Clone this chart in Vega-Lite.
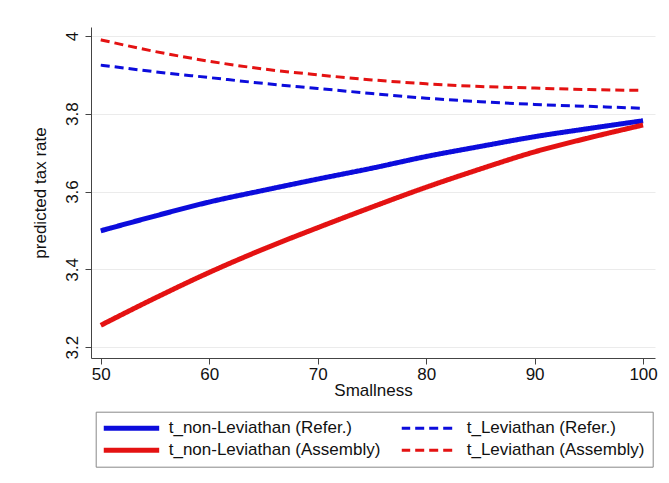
{
  "$schema": "https://vega.github.io/schema/vega-lite/v6.json",
  "width": 564,
  "height": 331,
  "autosize": "none",
  "padding": {"left": 91, "top": 27, "right": 14, "bottom": 125},
  "background": "white",
  "config": {
    "view": {"stroke": null},
    "font": "Liberation Sans",
    "axis": {
      "labelFont": "Liberation Sans",
      "titleFont": "Liberation Sans",
      "labelFontSize": 17,
      "titleFontSize": 17,
      "titleFontWeight": "normal",
      "labelColor": "#111",
      "titleColor": "#111",
      "domainColor": "#444",
      "tickColor": "#444",
      "tickSize": 6,
      "gridColor": "#ebebeb",
      "gridWidth": 1
    }
  },
  "data": {
    "values": [
      {"x": 50, "y": 3.499, "series": "t_non-Leviathan (Refer.)"},
      {"x": 55, "y": 3.537, "series": "t_non-Leviathan (Refer.)"},
      {"x": 60, "y": 3.573, "series": "t_non-Leviathan (Refer.)"},
      {"x": 65, "y": 3.603, "series": "t_non-Leviathan (Refer.)"},
      {"x": 70, "y": 3.632, "series": "t_non-Leviathan (Refer.)"},
      {"x": 75, "y": 3.660, "series": "t_non-Leviathan (Refer.)"},
      {"x": 80, "y": 3.690, "series": "t_non-Leviathan (Refer.)"},
      {"x": 85, "y": 3.716, "series": "t_non-Leviathan (Refer.)"},
      {"x": 90, "y": 3.741, "series": "t_non-Leviathan (Refer.)"},
      {"x": 95, "y": 3.762, "series": "t_non-Leviathan (Refer.)"},
      {"x": 100, "y": 3.782, "series": "t_non-Leviathan (Refer.)"},
      {"x": 50, "y": 3.925, "series": "t_Leviathan (Refer.)"},
      {"x": 55, "y": 3.908, "series": "t_Leviathan (Refer.)"},
      {"x": 60, "y": 3.893, "series": "t_Leviathan (Refer.)"},
      {"x": 65, "y": 3.878, "series": "t_Leviathan (Refer.)"},
      {"x": 70, "y": 3.865, "series": "t_Leviathan (Refer.)"},
      {"x": 75, "y": 3.852, "series": "t_Leviathan (Refer.)"},
      {"x": 80, "y": 3.840, "series": "t_Leviathan (Refer.)"},
      {"x": 85, "y": 3.831, "series": "t_Leviathan (Refer.)"},
      {"x": 90, "y": 3.824, "series": "t_Leviathan (Refer.)"},
      {"x": 95, "y": 3.819, "series": "t_Leviathan (Refer.)"},
      {"x": 100, "y": 3.814, "series": "t_Leviathan (Refer.)"},
      {"x": 50, "y": 3.256, "series": "t_non-Leviathan (Assembly)"},
      {"x": 55, "y": 3.326, "series": "t_non-Leviathan (Assembly)"},
      {"x": 60, "y": 3.392, "series": "t_non-Leviathan (Assembly)"},
      {"x": 65, "y": 3.452, "series": "t_non-Leviathan (Assembly)"},
      {"x": 70, "y": 3.507, "series": "t_non-Leviathan (Assembly)"},
      {"x": 75, "y": 3.560, "series": "t_non-Leviathan (Assembly)"},
      {"x": 80, "y": 3.611, "series": "t_non-Leviathan (Assembly)"},
      {"x": 85, "y": 3.658, "series": "t_non-Leviathan (Assembly)"},
      {"x": 90, "y": 3.702, "series": "t_non-Leviathan (Assembly)"},
      {"x": 95, "y": 3.738, "series": "t_non-Leviathan (Assembly)"},
      {"x": 100, "y": 3.771, "series": "t_non-Leviathan (Assembly)"},
      {"x": 50, "y": 3.990, "series": "t_Leviathan (Assembly)"},
      {"x": 55, "y": 3.960, "series": "t_Leviathan (Assembly)"},
      {"x": 60, "y": 3.935, "series": "t_Leviathan (Assembly)"},
      {"x": 65, "y": 3.915, "series": "t_Leviathan (Assembly)"},
      {"x": 70, "y": 3.900, "series": "t_Leviathan (Assembly)"},
      {"x": 75, "y": 3.887, "series": "t_Leviathan (Assembly)"},
      {"x": 80, "y": 3.877, "series": "t_Leviathan (Assembly)"},
      {"x": 85, "y": 3.870, "series": "t_Leviathan (Assembly)"},
      {"x": 90, "y": 3.866, "series": "t_Leviathan (Assembly)"},
      {"x": 95, "y": 3.862, "series": "t_Leviathan (Assembly)"},
      {"x": 100, "y": 3.860, "series": "t_Leviathan (Assembly)"}
    ]
  },
  "mark": {"type": "line", "interpolate": "monotone", "strokeCap": "butt"},
  "encoding": {
    "x": {
      "field": "x",
      "type": "quantitative",
      "title": "Smallness",
      "scale": {"domain": [49.1, 101.1], "nice": false, "zero": false},
      "axis": {
        "values": [50, 60, 70, 80, 90, 100],
        "grid": false,
        "labelPadding": 2,
        "titlePadding": 0,
        "labelFlush": false
      }
    },
    "y": {
      "field": "y",
      "type": "quantitative",
      "title": "predicted tax rate",
      "scale": {"domain": [3.172, 4.023], "nice": false, "zero": false},
      "axis": {
        "values": [3.2, 3.4, 3.6, 3.8, 4.0],
        "format": "~g",
        "grid": true,
        "labelAngle": -90,
        "labelAlign": "center",
        "labelBaseline": "alphabetic",
        "labelPadding": 8,
        "titlePadding": 14,
        "labelFlush": false
      }
    },
    "color": {
      "field": "series",
      "type": "nominal",
      "title": null,
      "scale": {
        "domain": ["t_non-Leviathan (Refer.)", "t_Leviathan (Refer.)", "t_non-Leviathan (Assembly)", "t_Leviathan (Assembly)"],
        "range": ["#0c0cdc", "#0c0cdc", "#e41212", "#e41212"]
      },
      "legend": {
        "orient": "none",
        "legendX": 4.7,
        "legendY": 384.7,
        "columns": 2,
        "direction": "horizontal",
        "strokeColor": "#888",
        "fillColor": "white",
        "padding": 8,
        "columnPadding": 21,
        "rowPadding": 4,
        "clipHeight": 17,
        "symbolType": "stroke",
        "symbolSize": 3136,
        "symbolOffset": -3,
        "labelOffset": 7,
        "labelFont": "Liberation Sans",
        "labelFontSize": 17,
        "labelColor": "#111",
        "labelLimit": 400
      }
    },
    "strokeDash": {
      "field": "series",
      "type": "nominal",
      "title": null,
      "scale": {
        "domain": ["t_non-Leviathan (Refer.)", "t_Leviathan (Refer.)", "t_non-Leviathan (Assembly)", "t_Leviathan (Assembly)"],
        "range": [[1, 0], [9, 5], [1, 0], [9, 5]]
      }
    },
    "strokeWidth": {
      "field": "series",
      "type": "nominal",
      "title": null,
      "scale": {
        "type": "ordinal",
        "domain": ["t_non-Leviathan (Refer.)", "t_Leviathan (Refer.)", "t_non-Leviathan (Assembly)", "t_Leviathan (Assembly)"],
        "range": [5, 3, 5, 3]
      }
    }
  }
}
